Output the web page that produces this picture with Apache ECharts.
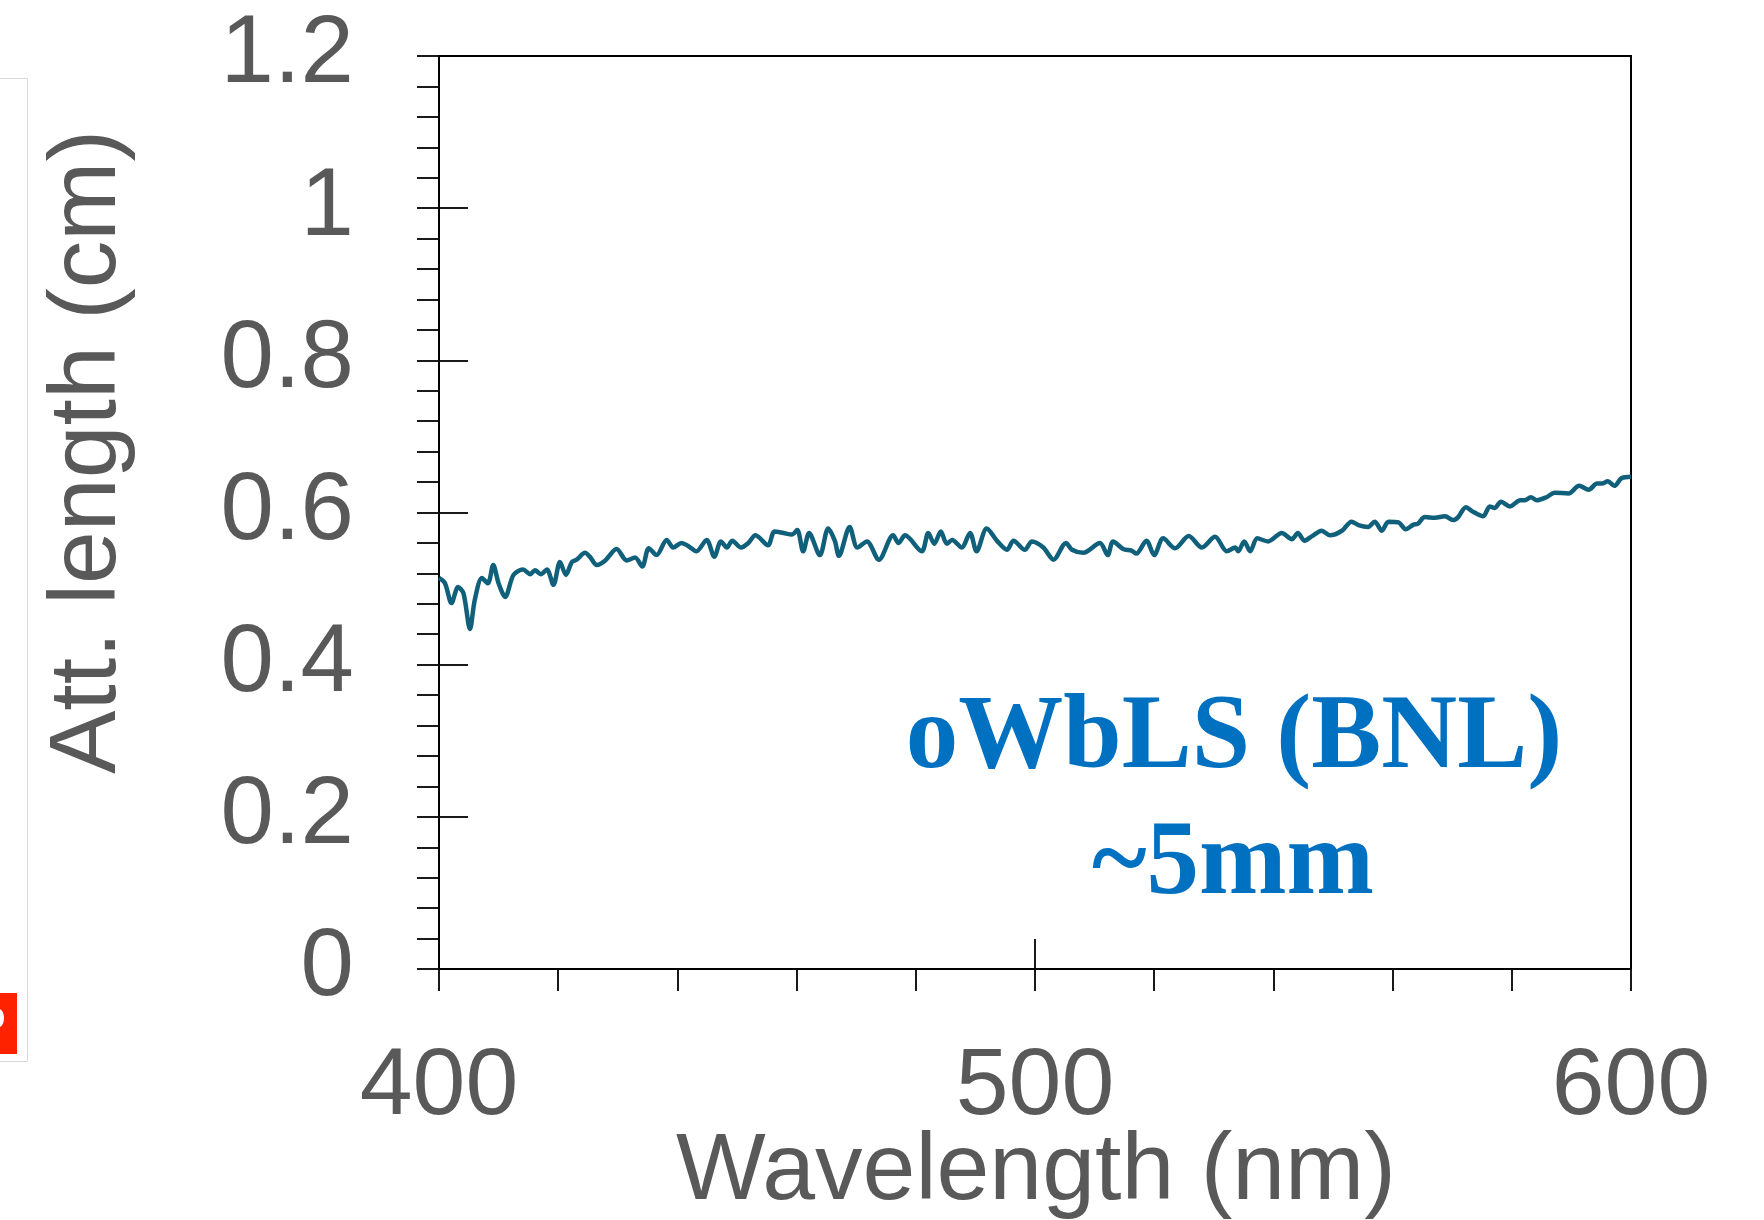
<!DOCTYPE html>
<html>
<head>
<meta charset="utf-8">
<script src="https://cdn.jsdelivr.net/npm/echarts@6/dist/echarts.min.js"></script>
<style>
html,body{margin:0;padding:0;background:#fff;}
#chart{width:1764px;height:1220px;}
</style>
</head>
<body>
<div id="chart"></div>
<script>
// ---- data ----
const wavelength = [
  400,401,402.1,403.2,404.1,405.2,406,407.2,408.2,409.1,410,411.1,412.5,414.1,415.3,416.1,417.1,418.1,419.2,420.3,421.3,422.3,423.1,424.5,425.3,426.5,427.9,429.8,431.5,432.9,
  434.1,435.2,436.5,438.2,439.3,440.7,441.8,443.2,444.9,446.2,447.3,448.3,449.2,450.7,451.9,453.1,455.2,456.3,457.8,459.2,460.1,461.1,462.1,463.9,465.3,466.4,
  467.1,468.9,470.2,471.8,473.8,476.2,477.1,478.2,481.0,482.1,483.1,484.2,485.2,486.1,487.7,489.1,490.2,491.9,493.7,495.3,496.4,498.3,499.5,
  501.4,503.1,505.2,506.2,508.1,510.9,512.2,513.1,514.8,516.2,517.0,518.7,520,521.5,523.5,525.8,528,530.2,532.2,533.6,
  534.1,535.1,536.1,537.3,539.1,541.4,543.1,544.1,545.2,546.5,548.1,549.5,551.5,553.1,554.4,555.9,557.0,558.2,559.3,561.0,562.2,563.5,564.2,565.4,567.1,
  568.8,570.2,571,572.3,573.5,575.2,576.3,577.1,578.2,579.7,581.4,582.1,583.2,584.2,585.8,587.2,589.5,591.3,592.9,594.3,595.1,596.1,597.2,598.4,600
];
const attLength = [
  0.514,0.507,0.481,0.502,0.494,0.447,0.485,0.514,0.507,0.531,0.507,0.489,0.518,0.525,0.519,0.524,0.519,0.525,0.505,0.535,0.518,0.535,0.538,0.547,0.542,0.531,0.537,0.552,0.537,0.541,
  0.529,0.553,0.544,0.564,0.554,0.560,0.556,0.549,0.564,0.542,0.562,0.554,0.563,0.554,0.560,0.570,0.557,0.575,0.573,0.571,0.577,0.549,0.573,0.544,0.579,0.563,
  0.543,0.581,0.554,0.562,0.538,0.570,0.560,0.570,0.549,0.573,0.559,0.575,0.559,0.564,0.554,0.573,0.549,0.579,0.562,0.551,0.563,0.551,0.562,
  0.554,0.538,0.560,0.551,0.547,0.560,0.544,0.562,0.552,0.550,0.546,0.563,0.544,0.566,0.553,0.569,0.554,0.568,0.549,0.554,
  0.549,0.562,0.549,0.566,0.562,0.573,0.565,0.573,0.563,0.569,0.576,0.570,0.576,0.588,0.583,0.581,0.588,0.576,0.588,0.587,0.578,0.584,0.585,0.594,0.593,
  0.595,0.590,0.594,0.607,0.601,0.595,0.608,0.606,0.614,0.608,0.616,0.616,0.620,0.616,0.620,0.626,0.625,0.635,0.630,0.638,0.638,0.641,0.635,0.645,0.647
];
const xTickLabels = ['400', '500', '600'];
const yTickLabels = ['0', '0.2', '0.4', '0.6', '0.8', '1', '1.2'];
const xTitle = 'Wavelength (nm)';
const yTitle = 'Att. length (cm)';
const noteLine1 = 'oWbLS (BNL)';
const noteLine2 = '~5mm';

const seriesData = wavelength.map((w, i) => [w, attLength[i]]);

const AX = '#000';
const TXT = '#595959';
const labelFont = 95;

const chart = echarts.init(document.getElementById('chart'), null, {renderer: 'canvas'});
chart.setOption({
  animation: false,
  backgroundColor: '#fff',
  grid: {
    left: 439, right: 133, top: 56, bottom: 251,
    show: true, borderColor: AX, borderWidth: 2, backgroundColor: 'transparent'
  },
  xAxis: [
    {
      type: 'value', position: 'bottom', min: 400, max: 600, interval: 100,
      axisLine: {show: true, onZero: false, lineStyle: {color: AX, width: 2}},
      axisTick: {show: true, inside: false, length: 22, lineStyle: {color: AX, width: 1.8}},
      minorTick: {show: true, splitNumber: 5, length: 22, lineStyle: {color: AX, width: 1.8}},
      splitLine: {show: false},
      axisLabel: {
        show: true, margin: 71, color: TXT, fontSize: labelFont, fontFamily: 'Liberation Sans, Arial, sans-serif',
        formatter: v => { const s = String(v); return xTickLabels.indexOf(s) >= 0 ? s : ''; }
      }
    },
    {
      type: 'value', position: 'bottom', min: 400, max: 600, interval: 100,
      axisLine: {show: false, onZero: false},
      axisTick: {show: true, inside: true, length: 30, lineStyle: {color: AX, width: 1.8}},
      splitLine: {show: false},
      axisLabel: {show: false}
    }
  ],
  yAxis: [
    {
      type: 'value', position: 'left', min: 0, max: 1.2, interval: 0.2,
      axisLine: {show: true, onZero: false, lineStyle: {color: AX, width: 2}},
      axisTick: {show: true, inside: false, length: 22, lineStyle: {color: AX, width: 1.8}},
      minorTick: {show: true, splitNumber: 5, length: 22, lineStyle: {color: AX, width: 1.8}},
      splitLine: {show: false},
      axisLabel: {
        show: true, margin: 85, color: TXT, fontSize: 96, fontFamily: 'Liberation Sans, Arial, sans-serif',
        padding: [7, 0, 0, 0],
        formatter: v => { const s = String(Math.round(v * 10) / 10); return yTickLabels.indexOf(s) >= 0 ? s : ''; }
      }
    },
    {
      type: 'value', position: 'left', min: 0, max: 1.2, interval: 0.2,
      axisLine: {show: false, onZero: false},
      axisTick: {show: true, inside: true, length: 29, lineStyle: {color: AX, width: 1.8}},
      splitLine: {show: false},
      axisLabel: {show: false}
    }
  ],
  series: [{
    type: 'line',
    xAxisIndex: 0, yAxisIndex: 0,
    data: seriesData,
    showSymbol: false,
    smooth: 0.3,
    lineStyle: {color: '#10607C', width: 4.5},
    z: 3
  }],
  graphic: [
    {
      type: 'text', x: 1036, y: 1173,
      style: {text: xTitle, fill: TXT, font: '95px "Liberation Sans", Arial, sans-serif', textAlign: 'center', textVerticalAlign: 'middle'}
    },
    {
      type: 'text', x: 89, y: 452, rotation: Math.PI / 2,
      style: {text: yTitle, fill: TXT, font: '95px "Liberation Sans", Arial, sans-serif', textAlign: 'center', textVerticalAlign: 'middle'}
    },
    {
      type: 'text', x: 1234, y: 740,
      style: {text: noteLine1, fill: '#0070C0', font: 'bold 105px "Liberation Serif", "Times New Roman", serif', textAlign: 'center', textVerticalAlign: 'middle'}
    },
    {
      type: 'text', x: 1233, y: 866,
      style: {text: noteLine2, fill: '#0070C0', font: 'bold 105px "Liberation Serif", "Times New Roman", serif', textAlign: 'center', textVerticalAlign: 'middle'}
    },
    {
      type: 'polyline', silent: true,
      shape: {points: [[0, 78.5], [27.5, 78.5], [27.5, 1061.5], [0, 1061.5]]},
      style: {stroke: '#D9D9D9', lineWidth: 1, fill: null}
    },
    {
      type: 'rect', silent: true,
      shape: {x: 0, y: 993, width: 17, height: 61},
      style: {fill: '#FF2200'}
    },
    {
      type: 'ellipse', silent: true,
      shape: {cx: -1, cy: 1018, rx: 5, ry: 9},
      style: {fill: '#FFFFFF'}
    }
  ]
});
</script>
</body>
</html>
